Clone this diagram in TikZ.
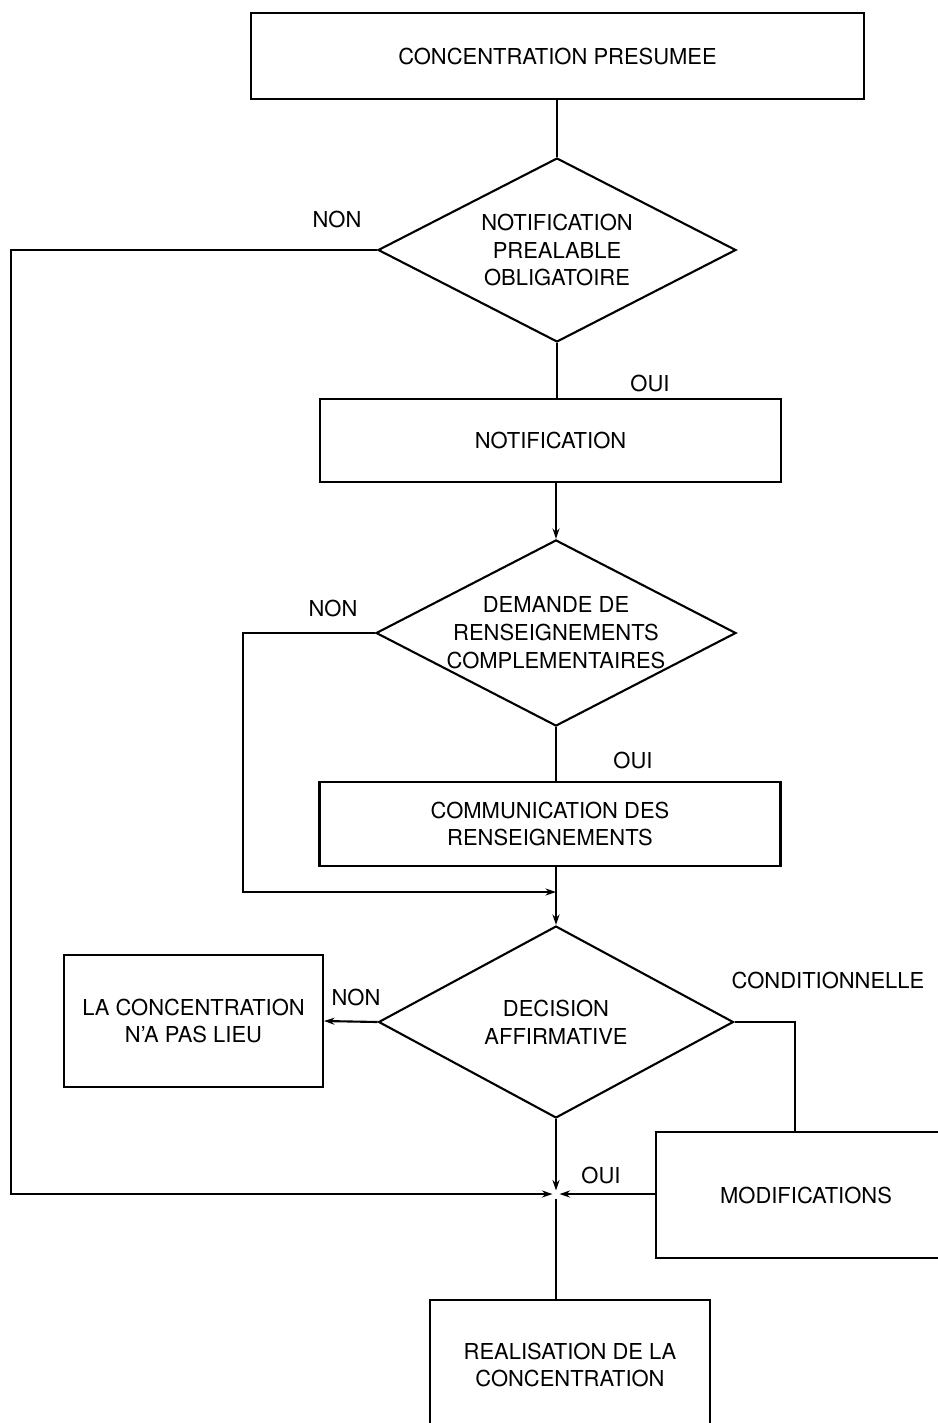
\documentclass[tikz,border=0pt]{standalone}
\usepackage{fontspec}
\setmainfont{TeX Gyre Heros}
\usetikzlibrary{calc,shapes.geometric,arrows.meta}

\begin{document}
\begin{tikzpicture}[x=0.02cm, y=-0.02cm, line width=1.2pt,
        every node/.style={font=\fontsize{12.5}{15.9}\selectfont, align=center},
        box/.style={draw, rectangle, inner sep=0pt},
        test/.style={draw, diamond, inner sep=0pt, shape aspect=1.92},
        >={Stealth[length=6pt, width=4pt]}]
    \useasboundingbox (0,0) rectangle (937,1423);
    % boxes and tests
    \node[box, minimum width=12.26cm, minimum height=1.72cm] (presumee) at (557.5,56) {CONCENTRATION PRESUMEE};
    \node[test, minimum width=7.16cm, minimum height=3.68cm] (q1) at (557,250) {NOTIFICATION\\PREALABLE\\OBLIGATOIRE};
    \node[box, minimum width=9.22cm, minimum height=1.66cm] (notif) at (550.5,440.5) {NOTIFICATION};
    \node[test, minimum width=7.2cm, minimum height=3.72cm] (q2) at (556,633) {DEMANDE DE\\RENSEIGNEMENTS\\COMPLEMENTAIRES};
    \node[box, minimum width=9.22cm, minimum height=1.68cm] (comm) at (550,824) {COMMUNICATION DES\\RENSEIGNEMENTS};
    \node[test, minimum width=7.1cm, minimum height=3.84cm] (q3) at (556,1022) {DECISION\\AFFIRMATIVE};
    \node[box, minimum width=5.18cm, minimum height=2.64cm] (lieu) at (193.5,1021) {LA CONCENTRATION\\N'A PAS LIEU};
    \node[box, minimum width=6cm, minimum height=2.52cm] (modif) at (806,1195) {MODIFICATIONS};
    \node[box, minimum width=5.6cm, minimum height=2.6cm] (real) at (570,1365) {REALISATION DE LA\\CONCENTRATION};
    \coordinate (j1) at (556,892);
    \coordinate (j2) at (556,1194);
    % labels
    \node (non1) at (337,219) {NON};
    \node (oui1) at (650,383) {OUI};
    \node (non2) at (333,608) {NON};
    \node (oui2) at (633,760) {OUI};
    \node (non3) at (356,997) {NON};
    \node (cond) at (828,980) {CONDITIONNELLE};
    \node (oui3) at (601,1175) {OUI};
    % connectors
    \draw (q1.north |- presumee.south) -- (q1.north);
    \draw (q1.south) -- (q1.south |- notif.north);
    \draw[->] (q2.north |- notif.south) -- (q2.north);
    \draw (q2.south) -- (q2.south |- comm.north);
    \draw[->] (q2.west) -- ++(-132,0) |- (j1);
    \draw[->] (j1 |- comm.south) -- (q3.north);
    \draw[->] (q3.west) -- (lieu.east);
    \draw (q3.east) -| ($(modif.north)+(-11,0)$);
    \draw[->, shorten >=2pt] (q1.west) -- ++(-366,0) |- (j2);
    \draw[->, shorten >=2pt] (modif.west |- j2) -- (j2);
    \draw[->, shorten >=2pt] (q3.south) -- (j2);
    \draw[shorten <=3pt] (j2) -- (j2 |- real.north);
\end{tikzpicture}
\end{document}
